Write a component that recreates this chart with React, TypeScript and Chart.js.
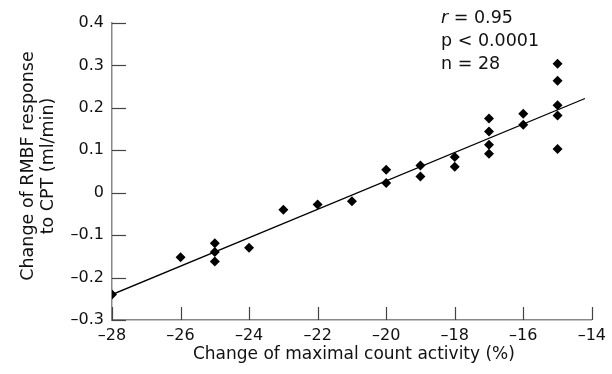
import React, { useEffect, useRef } from 'react';
import { Chart, registerables } from 'chart.js';

Chart.register(...registerables);

const FONT = '"DejaVu Sans", "Liberation Sans", sans-serif';

// Scatter data: change of maximal count activity (%) vs change of RMBF response (ml/min)
const pointX = [-28, -26, -25, -25, -25, -24, -23, -22, -21, -20, -20, -19, -19, -18, -18, -17, -17, -17, -17, -16, -16, -15, -15, -15, -15, -15];
const pointY = [-0.24, -0.152, -0.119, -0.14, -0.162, -0.13, -0.04, -0.028, -0.02, 0.054, 0.023, 0.064, 0.038, 0.084, 0.061, 0.175, 0.144, 0.113, 0.092, 0.186, 0.16, 0.304, 0.264, 0.206, 0.182, 0.103];

// Regression line end points
const fitX = [-28, -14.2];
const fitY = [-0.24, 0.222];

const xMin = -28;
const xMax = -14;
const xStep = 2;
const yMin = -0.3;
const yMax = 0.4;
const yStep = 0.1;

const xTitle = 'Change of maximal count activity (%)';
const yTitle = ['Change of RMBF response', 'to CPT (ml/min)'];
const statItalic = ['r', '', ''];
const statRest = [' = 0.95', 'p < 0.0001', 'n = 28'];

const fmt = (v: number, digits: number) => {
  if (Math.abs(v) < 1e-9) return '0';
  const s = Math.abs(v).toFixed(digits);
  return (v < 0 ? '\u2013' : '') + s;
};

const decorPlugin = {
  id: 'decor',
  afterDraw(chart: any) {
    const ctx = chart.ctx;
    const area = chart.chartArea;
    const xs = chart.scales.x;
    const ys = chart.scales.y;
    ctx.save();
    // inner tick marks
    ctx.strokeStyle = '#444';
    ctx.lineWidth = 1.2;
    ys.ticks.forEach((t: any) => {
      const py = Math.round(ys.getPixelForValue(t.value)) + 0.5;
      ctx.beginPath();
      ctx.moveTo(area.left, py);
      ctx.lineTo(area.left + 14, py);
      ctx.stroke();
    });
    xs.ticks.forEach((t: any) => {
      const px = Math.round(xs.getPixelForValue(t.value)) + 0.5;
      ctx.beginPath();
      ctx.moveTo(px, area.bottom);
      ctx.lineTo(px, area.bottom - 13);
      ctx.stroke();
    });
    // axis titles
    ctx.fillStyle = '#111';
    ctx.font = `17px ${FONT}`;
    ctx.textAlign = 'center';
    ctx.textBaseline = 'middle';
    ctx.fillText(xTitle, (area.left + area.right) / 2 + 2, 355);
    ctx.font = `17.5px ${FONT}`;
    ctx.save();
    ctx.translate(0, 166);
    ctx.rotate(-Math.PI / 2);
    ctx.fillText(yTitle[0], 0, 28);
    ctx.fillText(yTitle[1], 0, 48);
    ctx.restore();
    // statistics text
    ctx.textAlign = 'left';
    statRest.forEach((txt, i) => {
      const y = 18 + i * 23;
      let x = 441;
      if (statItalic[i]) {
        ctx.font = `italic 17.5px ${FONT}`;
        ctx.fillText(statItalic[i], x, y);
        x += ctx.measureText(statItalic[i]).width;
      }
      ctx.font = `17.5px ${FONT}`;
      ctx.fillText(txt, x, y);
    });
    ctx.restore();
  },
};

export default function App() {
  const ref = useRef<HTMLCanvasElement | null>(null);

  useEffect(() => {
    document.body.style.margin = '0';
    const canvas = ref.current;
    if (!canvas) return;
    const chart = new Chart(canvas, {
      type: 'scatter',
      data: {
        datasets: [
          {
            label: 'data',
            data: pointX.map((x, i) => ({ x, y: pointY[i] })),
            pointStyle: 'rectRot',
            pointRadius: 5,
            backgroundColor: '#000',
            borderColor: '#000',
            borderWidth: 0,
            showLine: false,
          },
          {
            label: 'fit',
            data: fitX.map((x, i) => ({ x, y: fitY[i] })),
            showLine: true,
            borderColor: '#000',
            borderWidth: 1.3,
            pointRadius: 0,
            fill: false,
          },
        ],
      },
      options: {
        animation: false,
        responsive: false,
        devicePixelRatio: 1,
        layout: { padding: { top: 23, right: 17, left: 0, bottom: 0 } },
        plugins: {
          legend: { display: false },
          tooltip: { enabled: false },
          title: { display: false },
        },
        scales: {
          x: {
            type: 'linear',
            min: xMin,
            max: xMax,
            ticks: {
              stepSize: xStep,
              color: '#111',
              font: { family: FONT, size: 16 },
              padding: 6,
              maxRotation: 0,
              callback: (v: any) => fmt(Number(v), 0),
            },
            grid: { display: true, drawOnChartArea: false, drawTicks: false },
            border: { display: true, color: '#888', width: 1.5 },
            afterFit: (s: any) => {
              s.height = 54;
            },
          },
          y: {
            type: 'linear',
            min: yMin,
            max: yMax,
            ticks: {
              stepSize: yStep,
              color: '#111',
              font: { family: FONT, size: 16 },
              padding: 8,
              callback: (v: any) => fmt(Number(v), 1),
            },
            grid: { display: true, drawOnChartArea: false, drawTicks: false },
            border: { display: true, color: '#888', width: 1.5 },
            afterFit: (s: any) => {
              s.width = 112;
            },
          },
        },
      },
      plugins: [decorPlugin],
    });
    return () => chart.destroy();
  }, []);

  return (
    <div style={{ width: 612, height: 374, background: '#fff' }}>
      <canvas ref={ref} width={612} height={374} style={{ display: 'block' }} />
    </div>
  );
}
